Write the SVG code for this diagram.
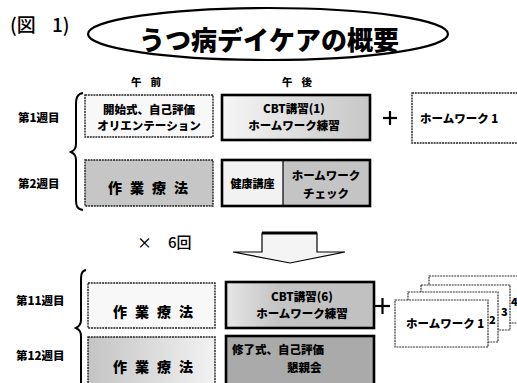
<svg xmlns="http://www.w3.org/2000/svg" width="517" height="383" viewBox="0 0 517 383">
<style>
text{font-family:"Noto Sans CJK JP","Noto Sans",sans-serif;font-weight:900;fill:#000}
.lbl{font-size:11.5px}
.big{font-size:14px;letter-spacing:8px}
.wk{font-size:11.5px}
.thin{stroke:#222;stroke-width:1.4;stroke-dasharray:2 0.8}
.thick{stroke:#000;stroke-width:2.6}
.card{fill:#fff;stroke:#333;stroke-width:1.2;stroke-dasharray:2 0.8}
.brace{fill:none;stroke:#000;stroke-width:2}
</style>
<defs>
<linearGradient id="g1" x1="0" x2="1" y1="0" y2="0"><stop offset="0" stop-color="#f6f6f6"/><stop offset="1" stop-color="#c6c6c6"/></linearGradient>
<linearGradient id="g2" x1="0" x2="1" y1="0" y2="0"><stop offset="0" stop-color="#c4c4c4"/><stop offset="1" stop-color="#f2f2f2"/></linearGradient>
<linearGradient id="g3" x1="0" x2="1" y1="0" y2="0"><stop offset="0" stop-color="#e6e6e6"/><stop offset="0.35" stop-color="#c4c4c4"/><stop offset="1" stop-color="#c0c0c0"/></linearGradient>
</defs>
<rect width="517" height="383" fill="#fff"/>

<g id="title">
<text x="10" y="32" style="font-size:19px;font-weight:500">(図</text>
<text x="52" y="32" style="font-size:19px;font-weight:500">1)</text>
<ellipse cx="268" cy="34" rx="180" ry="26" fill="#fff" stroke="#000" stroke-width="2.2"/>
<text x="269" y="50" text-anchor="middle" style="font-size:26px">うつ病デイケアの概要</text>
</g>

<g id="headers">
<text x="131" y="86" style="font-size:10.5px;letter-spacing:9px">午前</text>
<text x="282" y="86" style="font-size:10.5px;letter-spacing:9px">午後</text>
</g>

<g id="week-labels">
<text x="18" y="122" class="wk">第1週目</text>
<text x="18" y="188" class="wk">第2週目</text>
<text x="16" y="305" class="wk">第11週目</text>
<text x="16" y="360" class="wk">第12週目</text>
</g>

<g id="w1-am">
<rect x="85" y="95" width="128" height="42" fill="#f8f8f8" class="thin"/>
<text x="149" y="114" text-anchor="middle" class="lbl">開始式、自己評価</text>
<text x="149" y="130" text-anchor="middle" class="lbl">オリエンテーション</text>
</g>
<g id="w1-pm">
<rect x="222" y="95" width="148" height="45" fill="url(#g1)" class="thick"/>
<text x="294" y="113" text-anchor="middle" class="lbl">CBT講習(1)</text>
<text x="294" y="130" text-anchor="middle" class="lbl">ホームワーク練習</text>
</g>
<g id="w1-hw">
<rect x="412" y="93" width="110" height="50" fill="#fff" class="thin"/>
<text x="420" y="123" class="lbl">ホームワーク 1</text>
</g>

<g id="w2-am">
<rect x="85" y="160" width="128" height="46" fill="#c6c6c6" class="thin"/>
<text x="108" y="193" class="big">作業療法</text>
</g>
<g id="w2-pm">
<rect x="222" y="160" width="61" height="46" fill="#f2f2f2"/>
<rect x="283" y="160" width="87" height="46" fill="#c4c4c4"/>
<line x1="283" y1="160" x2="283" y2="206" stroke="#000" stroke-width="1.2"/>
<rect x="222" y="160" width="148" height="46" fill="none" class="thick"/>
<text x="252.5" y="188" text-anchor="middle" style="font-size:11px">健康講座</text>
<text x="326" y="180" text-anchor="middle" class="lbl">ホームワーク</text>
<text x="326" y="198" text-anchor="middle" class="lbl">チェック</text>
</g>

<g id="repeat">
<text x="137" y="248" style="font-size:15px;font-weight:500">×</text>
<text x="168" y="248" style="font-size:15px;font-weight:500">6回</text>
</g>

<g id="w11-am">
<rect x="88" y="283" width="127" height="45" fill="#f8f8f8" class="thin"/>
<text x="113" y="317" class="big">作業療法</text>
</g>
<g id="w11-pm">
<rect x="226" y="282" width="148" height="46" fill="url(#g3)" class="thick"/>
<text x="302" y="301" text-anchor="middle" class="lbl">CBT講習(6)</text>
<text x="302" y="318" text-anchor="middle" class="lbl">ホームワーク練習</text>
</g>

<g id="w12-am">
<rect x="88" y="337" width="127" height="50" fill="url(#g2)" class="thin"/>
<text x="113" y="372" class="big">作業療法</text>
</g>
<g id="w12-pm">
<rect x="226" y="336" width="148" height="51" fill="#aaaaaa" class="thick"/>
<text x="232" y="354" class="lbl">修了式、自己評価</text>
<text x="287" y="372" class="lbl">懇親会</text>
</g>

<g id="w11-hw">
<rect x="429" y="276" width="100" height="47" class="card"/>
<rect x="421" y="285" width="89" height="45" class="card"/>
<rect x="408" y="292" width="90" height="50" class="card"/>
<rect x="395" y="300" width="93" height="47" class="card"/>
<text x="406" y="328" class="lbl">ホームワーク 1</text>
<text x="489" y="324" style="font-size:11px">2</text>
<text x="501" y="316" style="font-size:11px">3</text>
<text x="511" y="306" style="font-size:11px">4</text>
</g>

<g id="connectors">
<path class="brace" d="M83,93 C77,94 76,98 76,105 L76,143 C76,148 75,150 71,152 C75,154 76,156 76,161 L76,200 C76,206 77,209 83,210"/>
<path class="brace" d="M86,270 C81,271 81,275 81,282 L81,320 C81,324 80,326 76,328 C80,330 81,332 81,337 L81,383"/>
<g id="plus1"><line x1="383" y1="118" x2="397" y2="118" stroke="#000" stroke-width="2.2"/><line x1="390" y1="111" x2="390" y2="125" stroke="#000" stroke-width="2.2"/></g>
<g id="plus2"><line x1="375" y1="306" x2="390" y2="306" stroke="#000" stroke-width="2.2"/><line x1="382.5" y1="298" x2="382.5" y2="314" stroke="#000" stroke-width="2.2"/></g>
<path id="down-arrow" d="M262,233 L317,233 L317,252 L345,252 L290,263 L233,252 L262,252 Z" fill="#f4f4f4" stroke="#000" stroke-width="1.2"/>
<line x1="262" y1="233" x2="317" y2="233" stroke="#000" stroke-width="3"/>
</g>
</svg>
